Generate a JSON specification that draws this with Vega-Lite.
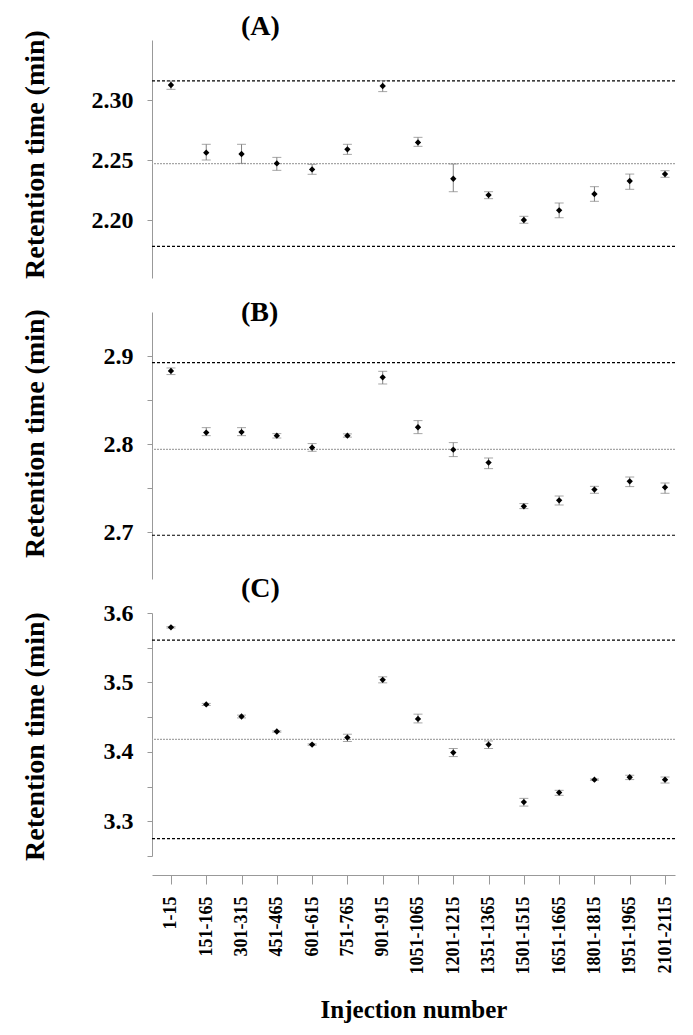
{
  "$schema": "https://vega.github.io/schema/vega-lite/v6.json",
  "background": "white",
  "padding": {"left": 21, "top": 12, "right": 18, "bottom": 5},
  "autosize": {"type": "pad"},
  "config": {
    "view": {"stroke": null},
    "font": "Liberation Serif",
    "axis": {
      "grid": false,
      "domainColor": "#999999",
      "tickColor": "#999999",
      "labelFont": "Liberation Serif",
      "labelFontWeight": "bold",
      "labelColor": "black",
      "labelOverlap": false,
      "titleFont": "Liberation Serif",
      "titleFontWeight": "bold",
      "titleColor": "black"
    },
    "title": {"font": "Liberation Serif", "fontWeight": "bold", "color": "black"}
  },
  "datasets": {
    "pts": [
      {"panel": "A", "inj": "1-15", "mean": 2.3125, "lo": 2.3089, "hi": 2.3158},
      {"panel": "A", "inj": "151-165", "mean": 2.2561, "lo": 2.2500, "hi": 2.2631},
      {"panel": "A", "inj": "301-315", "mean": 2.2550, "lo": 2.2472, "hi": 2.2631},
      {"panel": "A", "inj": "451-465", "mean": 2.2472, "lo": 2.2414, "hi": 2.2522},
      {"panel": "A", "inj": "601-615", "mean": 2.2422, "lo": 2.2381, "hi": 2.2464},
      {"panel": "A", "inj": "751-765", "mean": 2.2589, "lo": 2.2547, "hi": 2.2631},
      {"panel": "A", "inj": "901-915", "mean": 2.3117, "lo": 2.3070, "hi": 2.3161},
      {"panel": "A", "inj": "1051-1065", "mean": 2.2647, "lo": 2.2614, "hi": 2.2689},
      {"panel": "A", "inj": "1201-1215", "mean": 2.2344, "lo": 2.2236, "hi": 2.2467},
      {"panel": "A", "inj": "1351-1365", "mean": 2.2208, "lo": 2.2178, "hi": 2.2236},
      {"panel": "A", "inj": "1501-1515", "mean": 2.2000, "lo": 2.1973, "hi": 2.2031},
      {"panel": "A", "inj": "1651-1665", "mean": 2.2081, "lo": 2.2019, "hi": 2.2142},
      {"panel": "A", "inj": "1801-1815", "mean": 2.2217, "lo": 2.2156, "hi": 2.2278},
      {"panel": "A", "inj": "1951-1965", "mean": 2.2325, "lo": 2.2256, "hi": 2.2383},
      {"panel": "A", "inj": "2101-2115", "mean": 2.2383, "lo": 2.2356, "hi": 2.2411},
      {"panel": "B", "inj": "1-15", "mean": 2.8830, "lo": 2.8789, "hi": 2.8864},
      {"panel": "B", "inj": "151-165", "mean": 2.8130, "lo": 2.8095, "hi": 2.8186},
      {"panel": "B", "inj": "301-315", "mean": 2.8135, "lo": 2.8095, "hi": 2.8186},
      {"panel": "B", "inj": "451-465", "mean": 2.8095, "lo": 2.8068, "hi": 2.8118},
      {"panel": "B", "inj": "601-615", "mean": 2.7959, "lo": 2.7917, "hi": 2.8005},
      {"panel": "B", "inj": "751-765", "mean": 2.8095, "lo": 2.8078, "hi": 2.8115},
      {"panel": "B", "inj": "901-915", "mean": 2.8758, "lo": 2.8682, "hi": 2.8826},
      {"panel": "B", "inj": "1051-1065", "mean": 2.8190, "lo": 2.8118, "hi": 2.8266},
      {"panel": "B", "inj": "1201-1215", "mean": 2.7936, "lo": 2.7857, "hi": 2.8016},
      {"panel": "B", "inj": "1351-1365", "mean": 2.7789, "lo": 2.7720, "hi": 2.7841},
      {"panel": "B", "inj": "1501-1515", "mean": 2.7292, "lo": 2.7266, "hi": 2.7323},
      {"panel": "B", "inj": "1651-1665", "mean": 2.7360, "lo": 2.7307, "hi": 2.7409},
      {"panel": "B", "inj": "1801-1815", "mean": 2.7482, "lo": 2.7440, "hi": 2.7519},
      {"panel": "B", "inj": "1951-1965", "mean": 2.7576, "lo": 2.7516, "hi": 2.7625},
      {"panel": "B", "inj": "2101-2115", "mean": 2.7508, "lo": 2.7440, "hi": 2.7557},
      {"panel": "C", "inj": "1-15", "mean": 3.5793, "lo": 3.5783, "hi": 3.5803},
      {"panel": "C", "inj": "151-165", "mean": 3.4683, "lo": 3.4668, "hi": 3.4698},
      {"panel": "C", "inj": "301-315", "mean": 3.4509, "lo": 3.4489, "hi": 3.4529},
      {"panel": "C", "inj": "451-465", "mean": 3.4293, "lo": 3.4283, "hi": 3.4303},
      {"panel": "C", "inj": "601-615", "mean": 3.4105, "lo": 3.4095, "hi": 3.4115},
      {"panel": "C", "inj": "751-765", "mean": 3.4206, "lo": 3.4149, "hi": 3.4254},
      {"panel": "C", "inj": "901-915", "mean": 3.5038, "lo": 3.4994, "hi": 3.5081},
      {"panel": "C", "inj": "1051-1065", "mean": 3.4475, "lo": 3.4417, "hi": 3.4543},
      {"panel": "C", "inj": "1201-1215", "mean": 3.3990, "lo": 3.3932, "hi": 3.4048},
      {"panel": "C", "inj": "1351-1365", "mean": 3.4105, "lo": 3.4048, "hi": 3.4157},
      {"panel": "C", "inj": "1501-1515", "mean": 3.3277, "lo": 3.3219, "hi": 3.3330},
      {"panel": "C", "inj": "1651-1665", "mean": 3.3413, "lo": 3.3374, "hi": 3.3446},
      {"panel": "C", "inj": "1801-1815", "mean": 3.3600, "lo": 3.3590, "hi": 3.3610},
      {"panel": "C", "inj": "1951-1965", "mean": 3.3634, "lo": 3.3601, "hi": 3.3663},
      {"panel": "C", "inj": "2101-2115", "mean": 3.3600, "lo": 3.3551, "hi": 3.3638}
    ],
    "refs": [
      {"panel": "A", "kind": "limit", "value": 2.316},
      {"panel": "A", "kind": "mean", "value": 2.247},
      {"panel": "A", "kind": "limit", "value": 2.178},
      {"panel": "B", "kind": "limit", "value": 2.8925},
      {"panel": "B", "kind": "mean", "value": 2.794},
      {"panel": "B", "kind": "limit", "value": 2.6963},
      {"panel": "C", "kind": "limit", "value": 3.561},
      {"panel": "C", "kind": "mean", "value": 3.418},
      {"panel": "C", "kind": "limit", "value": 3.275}
    ]
  },
  "bounds": "flush",
  "spacing": 34,
  "vconcat": [
    {
      "width": 523,
      "height": 238,
      "title": {"text": "(A)", "anchor": "start", "frame": "group", "dx": 89, "offset": -39, "baseline": "bottom", "fontSize": 28},
      "layer": [
        {
          "data": {"name": "refs"},
          "transform": [{"filter": "datum.panel === 'A'"}],
          "mark": {"type": "rule", "strokeWidth": 1.2},
          "encoding": {
            "y": {"field": "value", "type": "quantitative", "scale": {"domain": [2.1517, 2.35], "nice": false, "zero": false},
              "axis": {"values": [2.2, 2.25, 2.3], "tickCount": 20, "format": ".2f", "labelOverlap": false, "title": "Retention time (min)", "titleFontSize": 28, "titleX": -117, "titleY": 114, "titleAngle": -90, "titleBaseline": "middle", "titleAlign": "center", "labelFontSize": 24, "tickSize": 5, "labelPadding": 14}},
            "color": {"field": "kind", "type": "nominal", "scale": {"domain": ["limit", "mean"], "range": ["#000000", "#a6a6a6"]}, "legend": null},
            "strokeDash": {"field": "kind", "type": "nominal", "scale": {"domain": ["limit", "mean"], "range": [[3, 2], [2, 1]]}, "legend": null}
          }
        },
        {
          "data": {"name": "pts"},
          "transform": [{"filter": "datum.panel === 'A'"}],
          "layer": [
            {"mark": {"type": "rule", "color": "#808080", "strokeWidth": 1},
             "encoding": {"y": {"field": "lo", "type": "quantitative"}, "y2": {"field": "hi"}}},
            {"mark": {"type": "tick", "color": "#808080", "size": 9, "thickness": 1},
             "encoding": {"y": {"field": "lo", "type": "quantitative"}}},
            {"mark": {"type": "tick", "color": "#808080", "size": 9, "thickness": 1},
             "encoding": {"y": {"field": "hi", "type": "quantitative"}}},
            {"mark": {"type": "point", "shape": "diamond", "filled": true, "color": "black", "size": 40, "opacity": 1},
             "encoding": {"y": {"field": "mean", "type": "quantitative"}}}
          ],
          "encoding": {
            "x": {"field": "inj", "type": "nominal", "sort": null, "scale": {"type": "point", "padding": 0.41, "align": 0.655}, "axis": null}
          }
        }
      ]
    },
    {
      "width": 523,
      "height": 267,
      "title": {"text": "(B)", "anchor": "start", "frame": "group", "dx": 89, "offset": -46, "baseline": "bottom", "fontSize": 28},
      "layer": [
        {
          "data": {"name": "refs"},
          "transform": [{"filter": "datum.panel === 'B'"}],
          "mark": {"type": "rule", "strokeWidth": 1.2},
          "encoding": {
            "y": {"field": "value", "type": "quantitative", "scale": {"domain": [2.6466, 2.95], "nice": false, "zero": false},
              "axis": {"values": [2.7, 2.75, 2.8, 2.85, 2.9], "tickCount": 20, "labelOverlap": false, "labelExpr": "round(datum.value*100) % 10 == 0 ? format(datum.value, '.1f') : ''", "title": "Retention time (min)", "titleFontSize": 28, "titleX": -117, "titleY": 121, "titleAngle": -90, "titleBaseline": "middle", "titleAlign": "center", "labelFontSize": 24, "tickSize": 5, "labelPadding": 14}},
            "color": {"field": "kind", "type": "nominal", "scale": {"domain": ["limit", "mean"], "range": ["#000000", "#a6a6a6"]}, "legend": null},
            "strokeDash": {"field": "kind", "type": "nominal", "scale": {"domain": ["limit", "mean"], "range": [[3, 2], [2, 1]]}, "legend": null}
          }
        },
        {
          "data": {"name": "pts"},
          "transform": [{"filter": "datum.panel === 'B'"}],
          "layer": [
            {"mark": {"type": "rule", "color": "#808080", "strokeWidth": 1},
             "encoding": {"y": {"field": "lo", "type": "quantitative"}, "y2": {"field": "hi"}}},
            {"mark": {"type": "tick", "color": "#808080", "size": 9, "thickness": 1},
             "encoding": {"y": {"field": "lo", "type": "quantitative"}}},
            {"mark": {"type": "tick", "color": "#808080", "size": 9, "thickness": 1},
             "encoding": {"y": {"field": "hi", "type": "quantitative"}}},
            {"mark": {"type": "point", "shape": "diamond", "filled": true, "color": "black", "size": 40, "opacity": 1},
             "encoding": {"y": {"field": "mean", "type": "quantitative"}}}
          ],
          "encoding": {
            "x": {"field": "inj", "type": "nominal", "sort": null, "scale": {"type": "point", "padding": 0.41, "align": 0.655}, "axis": null}
          }
        }
      ]
    },
    {
      "width": 523,
      "height": 243,
      "title": {"text": "(C)", "anchor": "start", "frame": "group", "dx": 89, "offset": -30, "baseline": "bottom", "fontSize": 28},
      "layer": [
        {
          "data": {"name": "refs"},
          "transform": [{"filter": "datum.panel === 'C'"}],
          "mark": {"type": "rule", "strokeWidth": 1.2},
          "encoding": {
            "y": {"field": "value", "type": "quantitative", "scale": {"domain": [3.25, 3.6], "nice": false, "zero": false},
              "axis": {"values": [3.25, 3.3, 3.35, 3.4, 3.45, 3.5, 3.55, 3.6], "tickCount": 20, "labelOverlap": false, "labelExpr": "round(datum.value*100) % 10 == 0 ? format(datum.value, '.1f') : ''", "title": "Retention time (min)", "titleFontSize": 28, "titleX": -117, "titleY": 123, "titleAngle": -90, "titleBaseline": "middle", "titleAlign": "center", "labelFontSize": 24, "tickSize": 5, "labelPadding": 14}},
            "color": {"field": "kind", "type": "nominal", "scale": {"domain": ["limit", "mean"], "range": ["#000000", "#a6a6a6"]}, "legend": null},
            "strokeDash": {"field": "kind", "type": "nominal", "scale": {"domain": ["limit", "mean"], "range": [[3, 2], [2, 1]]}, "legend": null}
          }
        },
        {
          "data": {"name": "pts"},
          "transform": [{"filter": "datum.panel === 'C'"}],
          "layer": [
            {"mark": {"type": "rule", "color": "#808080", "strokeWidth": 1},
             "encoding": {"y": {"field": "lo", "type": "quantitative"}, "y2": {"field": "hi"}}},
            {"mark": {"type": "tick", "color": "#808080", "size": 9, "thickness": 1},
             "encoding": {"y": {"field": "lo", "type": "quantitative"}}},
            {"mark": {"type": "tick", "color": "#808080", "size": 9, "thickness": 1},
             "encoding": {"y": {"field": "hi", "type": "quantitative"}}},
            {"mark": {"type": "point", "shape": "diamond", "filled": true, "color": "black", "size": 40, "opacity": 1},
             "encoding": {"y": {"field": "mean", "type": "quantitative"}}}
          ],
          "encoding": {
            "x": {"field": "inj", "type": "nominal", "sort": null, "scale": {"type": "point", "padding": 0.41, "align": 0.655},
              "axis": {"title": "Injection number", "titleFontSize": 25, "titlePadding": 24, "labelAngle": -90, "labelFontSize": 18, "tickSize": 9, "labelPadding": 12, "offset": 19}}
          }
        }
      ]
    }
  ]
}
